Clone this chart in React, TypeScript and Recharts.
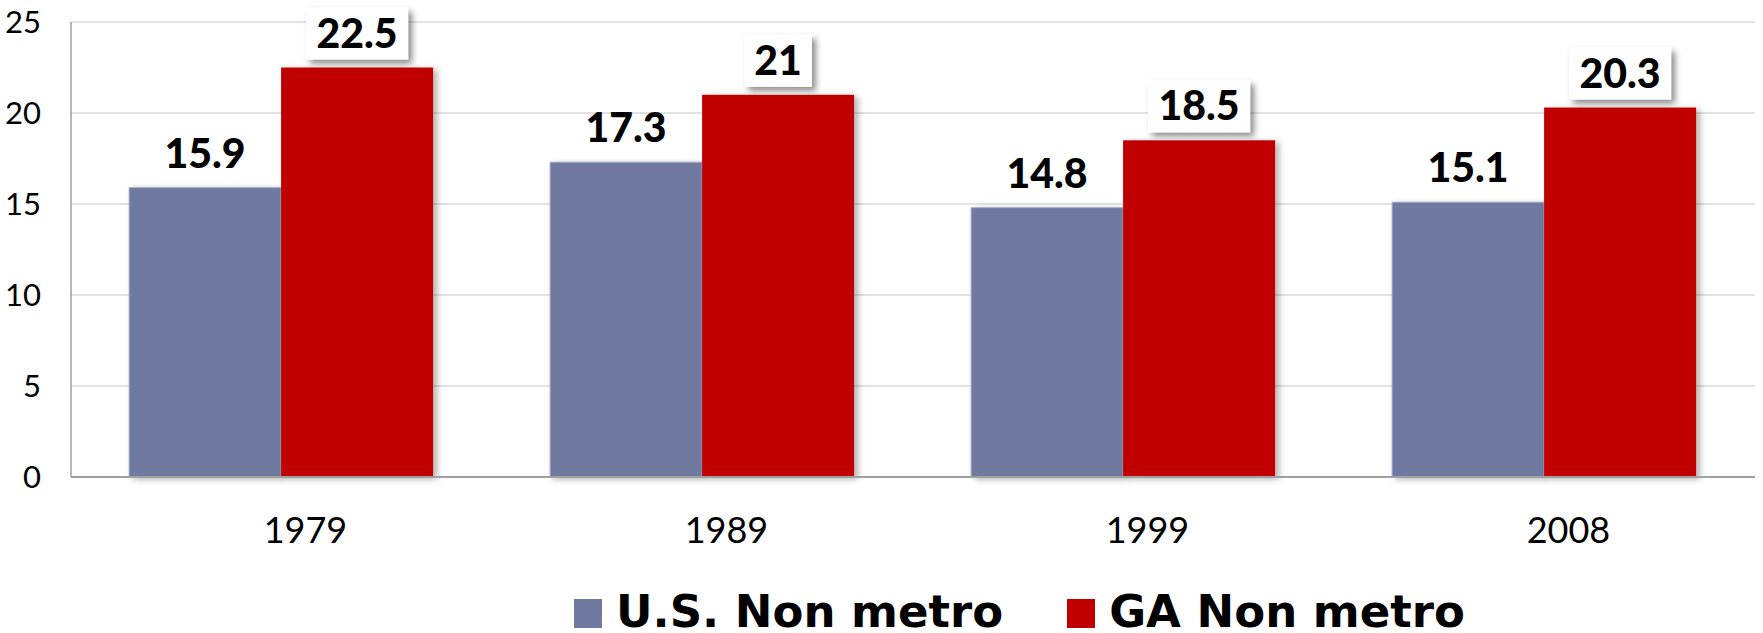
import React from 'react';
import { BarChart, Bar, XAxis, YAxis, CartesianGrid, Legend, LabelList } from 'recharts';

const years = ['1979', '1989', '1999', '2008'];
const usNonMetro = [15.9, 17.3, 14.8, 15.1];
const gaNonMetro = [22.5, 21, 18.5, 20.3];
const yTicks = [0, 5, 10, 15, 20, 25];
const seriesNames = ['U.S. Non metro', 'GA Non metro'];
const seriesColors = ['#707AA1', '#C00000'];

const data = years.map((year, i) => ({ year, us: usNonMetro[i], ga: gaNonMetro[i] }));

const LABEL_FONT = 41;
const estimateWidth = (s: string) => {
  let w = 0;
  for (const c of s) w += c === '.' ? 0.26 : 0.58;
  return w * LABEL_FONT;
};

const makeLabel = (boxed: boolean) => (props: any) => {
  const { x, y, width, value } = props;
  const cx = Number(x) + Number(width) / 2;
  const top = Number(y);
  const text = String(value);
  const bw = estimateWidth(text) + 20;
  return (
    <g>
      {boxed && (
        <rect x={cx - bw / 2} y={top - 60} width={bw} height={52} fill="#fff" filter="url(#boxShadow)" />
      )}
      <text
        x={cx}
        y={top - 20}
        textAnchor="middle"
        fontFamily="Lato, 'Open Sans', sans-serif"
        fontWeight={900}
        fontSize={LABEL_FONT}
        fill="#000"
      >
        {text}
      </text>
    </g>
  );
};

const makeShape = (fill: string, stroke?: string) => (props: any) => {
  const { x, y, width, height } = props;
  return (
    <rect
      x={x}
      y={y}
      width={width}
      height={height}
      fill={fill}
      stroke={stroke || 'none'}
      strokeWidth={stroke ? 1 : 0}
      filter="url(#barShadow)"
    />
  );
};

const XTick = (props: any) => {
  const { x, y, payload } = props;
  return (
    <text
      x={Number(x) + 24}
      y={y}
      dy="0.71em"
      textAnchor="middle"
      fontFamily="Lato, 'Open Sans', sans-serif"
      fontSize={36}
      fill="#000"
    >
      {payload.value}
    </text>
  );
};

const renderLegend = () => (
  <div style={{ display: 'flex', alignItems: 'flex-start', height: 48, paddingLeft: 574, boxSizing: 'border-box' }}>
    {seriesNames.map((name, i) => (
      <div key={name} style={{ display: 'flex', alignItems: 'flex-start', marginRight: i === 0 ? 64 : 0 }}>
        <span
          style={{
            display: 'inline-block',
            width: 28,
            height: 29,
            background: seriesColors[i],
            marginTop: 14,
            marginRight: 14,
          }}
        />
        <span
          style={{
            fontFamily: "'DejaVu Sans', sans-serif",
            fontWeight: 700,
            fontSize: 45,
            lineHeight: '48px',
            marginTop: 3,
            color: '#000',
            whiteSpace: 'nowrap',
          }}
        >
          {name}
        </span>
      </div>
    ))}
  </div>
);

export default function App() {
  return (
    <div style={{ position: 'absolute', left: 0, top: 0, width: 1763, height: 633, background: '#fff' }}>
      <svg style={{ position: 'absolute', width: 0, height: 0 }}>
        <defs>
          <filter id="boxShadow" x="-30%" y="-30%" width="170%" height="170%">
            <feDropShadow dx="4" dy="4" stdDeviation="3" floodColor="#000" floodOpacity="0.45" />
          </filter>
          <filter id="barShadow" x="-10%" y="-5%" width="130%" height="115%">
            <feDropShadow dx="4" dy="2" stdDeviation="3" floodColor="#000" floodOpacity="0.3" />
          </filter>
        </defs>
      </svg>
      <BarChart
        width={1763}
        height={633}
        data={data}
        margin={{ top: 22, right: 8, bottom: 0, left: 0 }}
        barCategoryGap="13.8%"
        barGap={0}
      >
        <CartesianGrid vertical={false} stroke="#D9D9D9" strokeWidth={1.5} />
        <XAxis
          dataKey="year"
          height={108}
          axisLine={{ stroke: '#A0A0A0', strokeWidth: 2 }}
          tickLine={false}
          tickSize={0}
          tickMargin={40}
          tick={<XTick />}
          interval={0}
        />
        <YAxis
          width={71}
          domain={[0, 25]}
          ticks={yTicks}
          interval={0}
          axisLine={{ stroke: '#A0A0A0', strokeWidth: 1.5 }}
          tickLine={false}
          tickSize={0}
          tickMargin={30}
          tick={{ fontFamily: "Lato, 'Open Sans', sans-serif", fontSize: 31, fill: '#000' }}
        />
        <Legend
          verticalAlign="bottom"
          height={48}
          wrapperStyle={{ left: 0, bottom: 0, width: 1763, height: 48 }}
          content={renderLegend}
        />
        <Bar
          dataKey="us"
          name={seriesNames[0]}
          fill={seriesColors[0]}
          shape={makeShape(seriesColors[0], '#A9B0CC')}
          isAnimationActive={false}
        >
          <LabelList dataKey="us" content={makeLabel(false)} />
        </Bar>
        <Bar
          dataKey="ga"
          name={seriesNames[1]}
          fill={seriesColors[1]}
          shape={makeShape(seriesColors[1])}
          isAnimationActive={false}
        >
          <LabelList dataKey="ga" content={makeLabel(true)} />
        </Bar>
      </BarChart>
    </div>
  );
}
